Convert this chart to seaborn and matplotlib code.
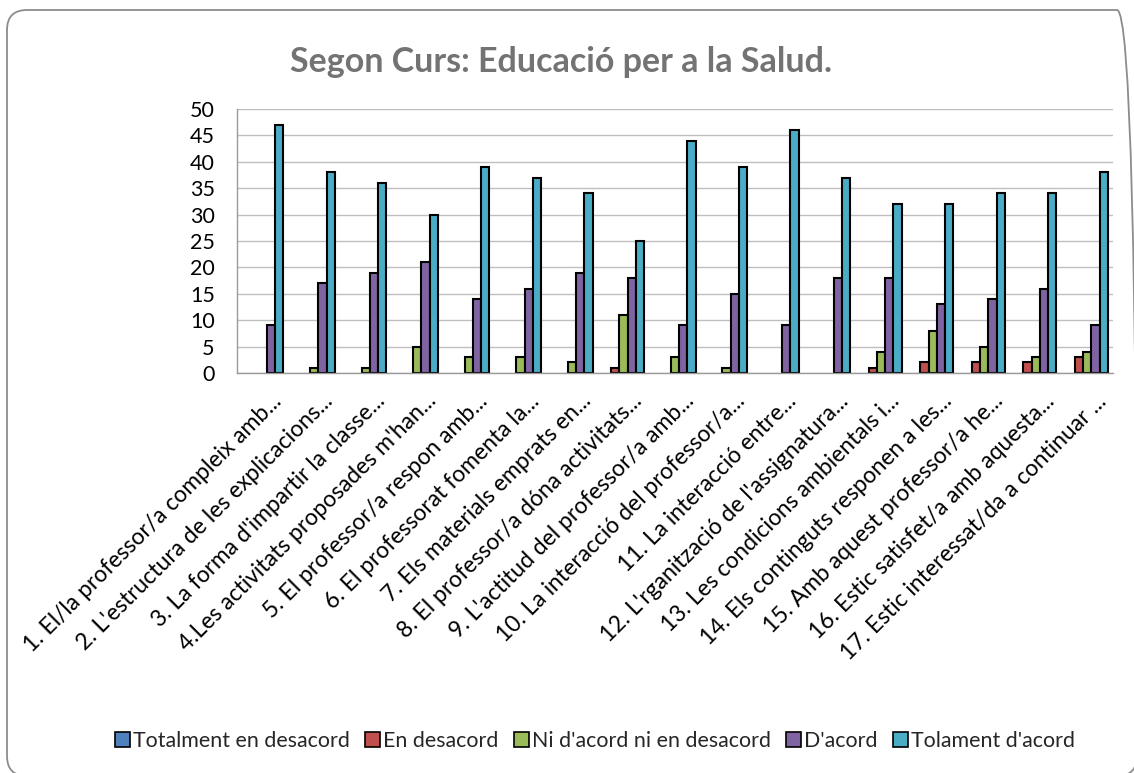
import matplotlib
matplotlib.use("Agg")
import matplotlib.pyplot as plt
import matplotlib.transforms as mtransforms
from matplotlib.patches import FancyBboxPatch, Patch
import seaborn as sns
import pandas as pd

categories = [
    "1. El/la professor/a compleix amb...",
    "2. L'estructura de les explicacions...",
    "3. La forma d'impartir la classe...",
    "4.Les activitats proposades m'han...",
    "5. El professor/a respon amb...",
    "6. El professorat fomenta la...",
    "7. Els materials emprats en...",
    "8. El professor/a dóna activitats...",
    "9. L'actitud del professor/a amb...",
    "10. La interacció del professor/a...",
    "11. La interacció entre...",
    "12. L'rganització de l'assignatura...",
    "13. Les condicions ambientals i...",
    "14. Els continguts responen a les...",
    "15. Amb aquest professor/a he...",
    "16. Estic satisfet/a amb aquesta...",
    "17. Estic interessat/da a continuar ...",
]
series_names = ["Totalment en desacord", "En desacord", "Ni d'acord ni en desacord",
                "D'acord", "Tolament d'acord"]
totalment_desacord = [0] * 17
en_desacord = [0, 0, 0, 0, 0, 0, 0, 1, 0, 0, 0, 0, 1, 2, 2, 2, 3]
ni_acord = [0, 1, 1, 5, 3, 3, 2, 11, 3, 1, 0, 0, 4, 8, 5, 3, 4]
d_acord = [9, 17, 19, 21, 14, 16, 19, 18, 9, 15, 9, 18, 18, 13, 14, 16, 9]
tolament_acord = [47, 38, 36, 30, 39, 37, 34, 25, 44, 39, 46, 37, 32, 32, 34, 34, 38]
colors = ["#4F81BD", "#C0504D", "#9BBB59", "#8064A2", "#4BACC6"]

all_series = [totalment_desacord, en_desacord, ni_acord, d_acord, tolament_acord]
rows = []
for name, vals in zip(series_names, all_series):
    for c, v in zip(categories, vals):
        rows.append({"cat": c, "serie": name, "val": v})
df = pd.DataFrame(rows)

sns.set_theme(style="white")
plt.rcParams['font.family'] = ['Lato', 'DejaVu Sans']

W, H = 1134, 773
fig = plt.figure(figsize=(W / 100, H / 100), dpi=100)
fig.patch.set_facecolor("white")

# rounded card border (inches, from bottom-left)
card = FancyBboxPatch((0.07, -0.03), 11.30, 7.66,
                      boxstyle="round,pad=0,rounding_size=0.2",
                      transform=fig.dpi_scale_trans, facecolor="none",
                      edgecolor="#8c8c8c", linewidth=1.3)
fig.patches.append(card)

ax = fig.add_axes([237 / W, 1 - 373 / H, (1113 - 237) / W, (373 - 109) / H])
sns.barplot(data=df, x="cat", y="val", hue="serie", hue_order=series_names,
            palette=colors, width=0.8, edgecolor="black", linewidth=1.5,
            saturation=1, ax=ax, legend=False, errorbar=None)
for p in ax.patches:
    if p.get_height() == 0:
        p.set_visible(False)

ax.set_ylim(0, 50)
ax.set_yticks(range(0, 51, 5))
ax.set_xlim(-0.5, len(categories) - 0.5)
ax.yaxis.grid(True, color="#bfbfbf", linewidth=1)
ax.set_axisbelow(True)
for s in ["top", "right"]:
    ax.spines[s].set_visible(False)
for s in ["left", "bottom"]:
    ax.spines[s].set_color("#9a9a9a")
    ax.spines[s].set_linewidth(1)
ax.set_xlabel("")
ax.set_ylabel("")
ax.tick_params(axis="y", labelsize=15.5, length=0, pad=16, labelcolor="black")
ax.tick_params(axis="x", labelsize=16.5, length=0, pad=6, labelcolor="black")
ax.set_xticks(range(len(categories)))
ax.set_xticklabels(categories, rotation=45, ha="right", rotation_mode="anchor")
offset = mtransforms.ScaledTranslation(8 / 100, -9 / 100, fig.dpi_scale_trans)
for lbl in ax.get_xticklabels():
    lbl.set_transform(lbl.get_transform() + offset)

fig.text(561 / W, 1 - 62 / H, "Segon Curs: Educació per a la Salud.",
         ha="center", va="center", fontsize=24.5, fontweight="bold", color="#737373")

handles = [Patch(facecolor=c, edgecolor="black", linewidth=1.2) for c in colors]
fig.legend(handles, series_names, loc="center", bbox_to_anchor=(595 / W, 1 - 741 / H),
           ncol=5, frameon=False, fontsize=15.4, handlelength=0.7, handleheight=0.7,
           handletextpad=0.15, columnspacing=0.7, borderpad=0)

fig.savefig("out.png", dpi=100, facecolor="white")
